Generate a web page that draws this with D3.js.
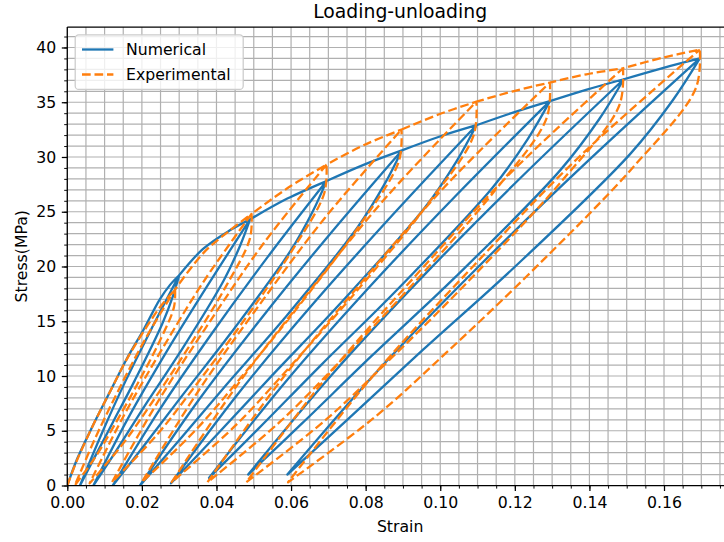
<!DOCTYPE html>
<html><head><meta charset="utf-8">
<script src="https://cdn.jsdelivr.net/npm/d3@7"></script>
<style>body{margin:0;background:#fff}text{font-family:"DejaVu Sans",sans-serif;fill:#000}</style>
</head><body><svg id="c" width="724" height="542"></svg>
<script>
// ---------- data ----------
const xTickValues = [0, 0.02, 0.04, 0.06, 0.08, 0.10, 0.12, 0.14, 0.16];
const yTickValues = [0, 5, 10, 15, 20, 25, 30, 35, 40];
const seriesNames = ["Numerical", "Experimental"];

// Numerical
const numVirgin = [[0,0],[0.0026,2.4],[0.0069,5.5],[0.0112,8.4],[0.016,11.6],[0.0204,14.2],[0.0248,17.0],[0.0275,18.3],[0.030,19.2]];
const numPeaks = [[0.030,19.2],[0.049,24.3],[0.0695,27.8],[0.0897,30.6],[0.1097,32.9],[0.1294,35.1],[0.1492,37.1],[0.1696,39.0]];
const numResidual = [[0.0034,0],[0.007,0],[0.0122,0],[0.0195,0],[0.0278,0.2],[0.038,0.7],[0.0485,1.0],[0.059,1.0]];
const numUnload = [
  [[0.0283,17.28],[0.0255,14.8],[0.0181,9.6],[0.0122,5.76],[0.0072,2.5]],
  [[0.0463,21.87],[0.0419,18.7],[0.0302,12.15],[0.0208,7.29],[0.0131,3.16]],
  [[0.0658,25.02],[0.0598,21.4],[0.0438,13.9],[0.0311,8.34],[0.0205,3.61]],
  [[0.0851,27.54],[0.0778,23.56],[0.0583,15.3],[0.0426,9.18],[0.0296,3.98]],
  [[0.1044,29.63],[0.0959,25.38],[0.0730,16.55],[0.0548,10.01],[0.0396,4.45]],
  [[0.1235,31.66],[0.1140,27.19],[0.0885,17.9],[0.0681,11.02],[0.0512,5.17]],
  [[0.1427,33.49],[0.1322,28.8],[0.1041,19.05],[0.0816,11.83],[0.0630,5.69]],
  [[0.1624,35.2],[0.1509,30.26],[0.1201,20.0],[0.0954,12.4],[0.0749,5.94]]
];
const numReload = [
  [[0.0093,4.8],[0.0157,9.6],[0.0227,14.4]],
  [[0.0162,6.08],[0.0265,12.15],[0.0375,18.2]],
  [[0.0248,6.95],[0.0388,13.9],[0.0537,20.85]],
  [[0.0349,7.65],[0.0521,15.3],[0.0704,22.95]],
  [[0.0458,8.38],[0.0658,16.55],[0.0872,24.7]],
  [[0.0581,9.3],[0.0804,17.9],[0.1043,26.5]],
  [[0.0707,10.03],[0.0952,19.05],[0.1215,28.08]],
  [[0.0833,10.5],[0.1103,20.0],[0.1392,29.5]]
];
const numEnvelope = [
  [[0.0364,21.6],[0.0436,23.3]],
  [[0.059,26.2]],
  [[0.0796,29.3]],
  [[0.0997,31.85]],
  [[0.1195,34.05]],
  [[0.1393,36.15]],
  [[0.1594,38.1]]
];

// Experimental
const expVirgin = [[0,0],[0.0026,2.3],[0.0069,5.5],[0.0112,8.4],[0.0159,11.5],[0.0213,14.5],[0.0249,16.3],[0.0289,17.9]];
const expPeaks = [[0.0289,17.9],[0.0494,24.8],[0.0695,29.3],[0.0896,32.5],[0.1097,35.05],[0.1294,36.8],[0.149,38.1],[0.1696,39.8]];
const expResidual = [[0.002,0],[0.006,0.2],[0.012,0.3],[0.020,0.3],[0.028,0.3],[0.0376,0.3],[0.048,0.3],[0.0592,0.3]];
const expUnload = [
  [[0.0286,16.29],[0.0246,13.07],[0.0183,8.95],[0.0124,5.37],[0.0077,2.69]],
  [[0.0490,22.59],[0.0425,18.16],[0.0323,12.5],[0.0227,7.58],[0.0151,3.89]],
  [[0.0689,26.69],[0.0603,21.47],[0.0468,14.8],[0.0341,9.0],[0.0241,4.65]],
  [[0.0889,29.6],[0.0785,23.81],[0.0621,16.4],[0.0468,9.96],[0.0346,5.13]],
  [[0.1089,31.92],[0.0966,25.67],[0.0774,17.68],[0.0594,10.73],[0.0452,5.51]],
  [[0.1285,33.52],[0.1147,26.95],[0.0931,18.55],[0.0729,11.25],[0.0569,5.78]],
  [[0.1480,34.7],[0.1328,27.89],[0.1091,19.2],[0.0869,11.64],[0.0692,5.97]],
  [[0.1685,36.25],[0.1519,29.14],[0.1260,20.05],[0.1017,12.15],[0.0824,6.23]]
];
const expReload = [
  [[0.0077,4.48],[0.0141,8.95],[0.0210,13.43]],
  [[0.0151,6.35],[0.0255,12.5],[0.0366,18.65]],
  [[0.0241,7.55],[0.0379,14.8],[0.0525,22.05]],
  [[0.0346,8.35],[0.0513,16.4],[0.0691,24.45]],
  [[0.0452,8.99],[0.0648,17.68],[0.0856,26.36]],
  [[0.0569,9.43],[0.0789,18.55],[0.1023,27.68]],
  [[0.0692,9.75],[0.0935,19.2],[0.1192,28.65]],
  [[0.0824,10.18],[0.1089,20.05],[0.1370,29.93]]
];
const expEnvelope = [
  [[0.0364,21.2],[0.0436,23.3]],
  [[0.0597,27.3]],
  [[0.0796,31.1]],
  [[0.0997,33.9]],
  [[0.1195,36.0]],
  [[0.1392,37.55]],
  [[0.1594,39.05]]
];

// ---------- layout ----------
const svg = d3.select("#c");
const W = 724, H = 542;
const x = d3.scaleLinear().domain([0, 0.1785]).range([67.3, 733]);
const y = d3.scaleLinear().domain([0, 41.87]).range([485.5, 27]);
const x0 = x.range()[0], x1 = x.range()[1], y0 = y.range()[0], y1 = y.range()[1];

svg.append("rect").attr("width", W).attr("height", H).attr("fill", "#fff");
svg.append("defs").append("clipPath").attr("id", "clip")
  .append("rect").attr("x", x0).attr("y", y1).attr("width", x1 - x0).attr("height", y0 - y1);

// grid (major + minor)
const xMinor = d3.range(0, 0.1786, 0.005);
const yMinor = d3.range(0, 41.87, 1);
const grid = svg.append("g").attr("stroke", "#b0b0b0").attr("stroke-width", 1.2);
grid.selectAll("line.gx").data(xMinor).join("line")
  .attr("x1", d => x(d)).attr("x2", d => x(d)).attr("y1", y0).attr("y2", y1);
grid.selectAll("line.gy").data(yMinor).join("line")
  .attr("y1", d => y(d)).attr("y2", d => y(d)).attr("x1", x0).attr("x2", x1);

// series path builder
function buildPieces(virgin, peaks, resid, unload, reload, env) {
  const pieces = [virgin];
  for (let i = 0; i < peaks.length; i++) {
    pieces.push([peaks[i], ...unload[i], resid[i]]);
    pieces.push([resid[i], ...reload[i], peaks[i]]);
    if (i < peaks.length - 1) pieces.push([peaks[i], ...env[i], peaks[i + 1]]);
  }
  return pieces;
}
const lineGen = d3.line().x(d => x(d[0])).y(d => y(d[1])).curve(d3.curveCatmullRom.alpha(0.5));
function pathFrom(pieces) {
  return pieces.map((p, i) => {
    const s = lineGen(p);
    return i === 0 ? s : "L" + s.slice(1);
  }).join("");
}
const plot = svg.append("g").attr("clip-path", "url(#clip)");
plot.append("path")
  .attr("d", pathFrom(buildPieces(numVirgin, numPeaks, numResidual, numUnload, numReload, numEnvelope)))
  .attr("fill", "none").attr("stroke", "#1f77b4").attr("stroke-width", 2.3)
  .attr("stroke-linejoin", "round").attr("stroke-linecap", "square");
plot.append("path")
  .attr("d", pathFrom(buildPieces(expVirgin, expPeaks, expResidual, expUnload, expReload, expEnvelope)))
  .attr("fill", "none").attr("stroke", "#ff7f0e").attr("stroke-width", 2.3)
  .attr("stroke-dasharray", "8.7,3.8").attr("stroke-linejoin", "round");

// spines
svg.append("line").attr("x1", x0).attr("x2", x0).attr("y1", y0).attr("y2", y1).attr("stroke", "#000").attr("stroke-width", 1.25);
svg.append("line").attr("x1", x0).attr("x2", x1).attr("y1", y0).attr("y2", y0).attr("stroke", "#000").attr("stroke-width", 1.25);
svg.append("line").attr("x1", x0).attr("x2", x1).attr("y1", y1).attr("y2", y1).attr("stroke", "#000").attr("stroke-width", 1.25);

// axes via d3
const fmtX = d3.format(".2f");
const xMinorAxis = d3.axisBottom(x).tickValues(xMinor).tickSize(3.1).tickFormat("");
const xMajorAxis = d3.axisBottom(x).tickValues(xTickValues).tickSize(5.5).tickPadding(5.5).tickFormat(fmtX);
const yMinorAxis = d3.axisLeft(y).tickValues(yMinor).tickSize(3.1).tickFormat("");
const yMajorAxis = d3.axisLeft(y).tickValues(yTickValues).tickSize(5.5).tickPadding(5.5).tickFormat(d3.format("d"));
function styleAxis(g, w) {
  g.select(".domain").remove();
  g.selectAll(".tick line").attr("stroke", "#000").attr("stroke-width", w);
  g.selectAll(".tick text").attr("font-size", "15.7px").attr("font-family", "DejaVu Sans").attr("fill", "#000");
}
svg.append("g").attr("transform", `translate(0,${y0})`).call(xMinorAxis).call(g => styleAxis(g, 0.95));
svg.append("g").attr("transform", `translate(0,${y0})`).call(xMajorAxis).call(g => styleAxis(g, 1.25));
svg.append("g").attr("transform", `translate(${x0},0)`).call(yMinorAxis).call(g => styleAxis(g, 0.95));
svg.append("g").attr("transform", `translate(${x0},0)`).call(yMajorAxis).call(g => styleAxis(g, 1.25));

// labels
svg.append("text").attr("x", (x0 + x1) / 2).attr("y", 18).attr("text-anchor", "middle")
  .attr("font-size", "18.8px").text("Loading-unloading");
svg.append("text").attr("x", (x0 + x1) / 2).attr("y", 532).attr("text-anchor", "middle")
  .attr("font-size", "15.7px").text("Strain");
svg.append("text").attr("transform", `translate(27,${(y0 + y1) / 2}) rotate(-90)`).attr("text-anchor", "middle")
  .attr("font-size", "15.7px").text("Stress(MPa)");

// legend
const lg = svg.append("g");
lg.append("rect").attr("x", 75.2).attr("y", 34.9).attr("width", 168).attr("height", 54.5).attr("rx", 3.5)
  .attr("fill", "#fff").attr("fill-opacity", 0.8).attr("stroke", "#cccccc").attr("stroke-width", 1.25);
const legendColors = ["#1f77b4", "#ff7f0e"];
seriesNames.forEach((name, i) => {
  const cy = 49.5 + i * 25;
  const l = lg.append("line").attr("x1", 82).attr("x2", 113.4).attr("y1", cy).attr("y2", cy)
    .attr("stroke", legendColors[i]).attr("stroke-width", 2.3);
  if (i === 1) l.attr("stroke-dasharray", "8.7,3.8");
  lg.append("text").attr("x", 126).attr("y", cy + 5.5).attr("font-size", "15.7px").text(name);
});
</script></body></html>
